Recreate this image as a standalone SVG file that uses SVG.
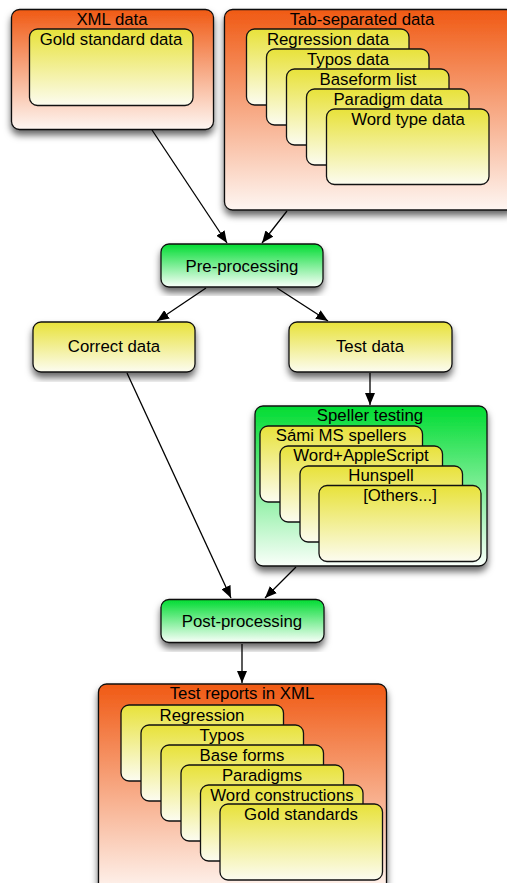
<svg xmlns="http://www.w3.org/2000/svg" width="507" height="883" viewBox="0 0 507 883">
<defs>
<linearGradient id="gOr" x1="0" y1="0" x2="0" y2="1">
<stop offset="0" stop-color="#F05A14"/><stop offset="1" stop-color="#FEF6F2"/>
</linearGradient>
<linearGradient id="gYe" x1="0" y1="0" x2="0" y2="1">
<stop offset="0" stop-color="#E8E23A"/><stop offset="1" stop-color="#FCFCF0"/>
</linearGradient>
<linearGradient id="gGr" x1="0" y1="0" x2="0" y2="1">
<stop offset="0" stop-color="#00DC32"/><stop offset="1" stop-color="#FAFFFA"/>
</linearGradient>
<filter id="sh" x="-10%" y="-10%" width="120%" height="130%">
<feDropShadow dx="0" dy="5" stdDeviation="3.5" flood-color="#000" flood-opacity="0.6"/>
</filter>
<marker id="ah" viewBox="0 0 12 10" refX="12" refY="5" markerWidth="12" markerHeight="10" markerUnits="userSpaceOnUse" orient="auto">
<path d="M0,0 L12,5 L0,10 Z" fill="#000"/>
</marker>
</defs>
<style>
.or{fill:url(#gOr);stroke:#111;stroke-width:1.3;filter:url(#sh)}
.gr{fill:url(#gGr);stroke:#111;stroke-width:1.3;filter:url(#sh)}
.ye{fill:url(#gYe);stroke:#111;stroke-width:1.3}
.yes{fill:url(#gYe);stroke:#111;stroke-width:1.3;filter:url(#sh)}
text{font-family:"Liberation Sans",Arial,sans-serif;font-size:16.8px;fill:#000;text-anchor:middle}
.c line{stroke:#000;stroke-width:1.3;marker-end:url(#ah)}
</style>

<g id="connectors" class="c">
<line x1="152" y1="130" x2="227" y2="243"/>
<line x1="287" y1="211" x2="262" y2="243"/>
<line x1="206" y1="288" x2="157" y2="321"/>
<line x1="277" y1="288" x2="328" y2="321"/>
<line x1="370" y1="373" x2="370" y2="405"/>
<line x1="127" y1="373" x2="231" y2="598"/>
<line x1="296" y1="567" x2="265" y2="598"/>
<line x1="242" y1="644" x2="242" y2="683"/>
</g>

<g id="xml-data">
<rect class="or" x="11.5" y="9.5" width="202" height="120" rx="8"/>
<text x="112" y="25">XML data</text>
<rect class="ye" x="29.5" y="29" width="163.5" height="76.5" rx="8"/>
<text x="111" y="44.5">Gold standard data</text>
</g>

<g id="tab-data">
<rect class="or" x="224.5" y="9.5" width="290" height="200.5" rx="8"/>
<text x="362" y="25">Tab-separated data</text>
<rect class="ye" x="246.5" y="29" width="162.5" height="76" rx="8"/>
<text x="328" y="44.5">Regression data</text>
<rect class="ye" x="266.5" y="49" width="162.5" height="76" rx="8"/>
<text x="348" y="64.5">Typos data</text>
<rect class="ye" x="286.5" y="69" width="162.5" height="76" rx="8"/>
<text x="368" y="84.5">Baseform list</text>
<rect class="ye" x="306.5" y="89" width="162.5" height="76" rx="8"/>
<text x="388" y="104.5">Paradigm data</text>
<rect class="ye" x="326.5" y="109" width="162.5" height="75.5" rx="8"/>
<text x="408" y="124.5">Word type data</text>
</g>

<g id="pre-processing">
<rect class="gr" x="161" y="244" width="162" height="43" rx="8"/>
<text x="242" y="272">Pre-processing</text>
</g>

<g id="correct-data">
<rect class="yes" x="33" y="322" width="162" height="50" rx="8"/>
<text x="114" y="352">Correct data</text>
</g>

<g id="test-data">
<rect class="yes" x="289" y="322" width="163" height="50" rx="8"/>
<text x="370" y="352">Test data</text>
</g>

<g id="speller-testing">
<rect class="gr" x="255" y="406" width="232" height="160" rx="8"/>
<text x="370" y="421">Speller testing</text>
<rect class="ye" x="260" y="426" width="162.5" height="76" rx="8"/>
<text x="341" y="441">Sámi MS spellers</text>
<rect class="ye" x="280" y="446" width="162.5" height="76" rx="8"/>
<text x="361" y="461">Word+AppleScript</text>
<rect class="ye" x="300" y="466" width="162.5" height="76" rx="8"/>
<text x="381" y="481">Hunspell</text>
<rect class="ye" x="319" y="485.5" width="162" height="76" rx="8"/>
<text x="400" y="500.5">[Others...]</text>
</g>

<g id="post-processing">
<rect class="gr" x="161" y="599.5" width="163" height="43" rx="8"/>
<text x="242" y="627">Post-processing</text>
</g>

<g id="test-reports">
<rect class="or" x="98.5" y="684" width="288" height="210" rx="8"/>
<text x="242" y="698.5">Test reports in XML</text>
<rect class="ye" x="121" y="705" width="162.5" height="76" rx="8"/>
<text x="202" y="720.5">Regression</text>
<rect class="ye" x="141" y="725" width="162.5" height="76" rx="8"/>
<text x="222" y="740.5">Typos</text>
<rect class="ye" x="161" y="745" width="162.5" height="76" rx="8"/>
<text x="242" y="760.5">Base forms</text>
<rect class="ye" x="181" y="765" width="162.5" height="76" rx="8"/>
<text x="262" y="780.5">Paradigms</text>
<rect class="ye" x="200.5" y="785" width="162.5" height="76" rx="8"/>
<text x="282" y="800.5">Word constructions</text>
<rect class="ye" x="220" y="804" width="162.5" height="76" rx="8"/>
<text x="301" y="819.5">Gold standards</text>
</g>
</svg>
